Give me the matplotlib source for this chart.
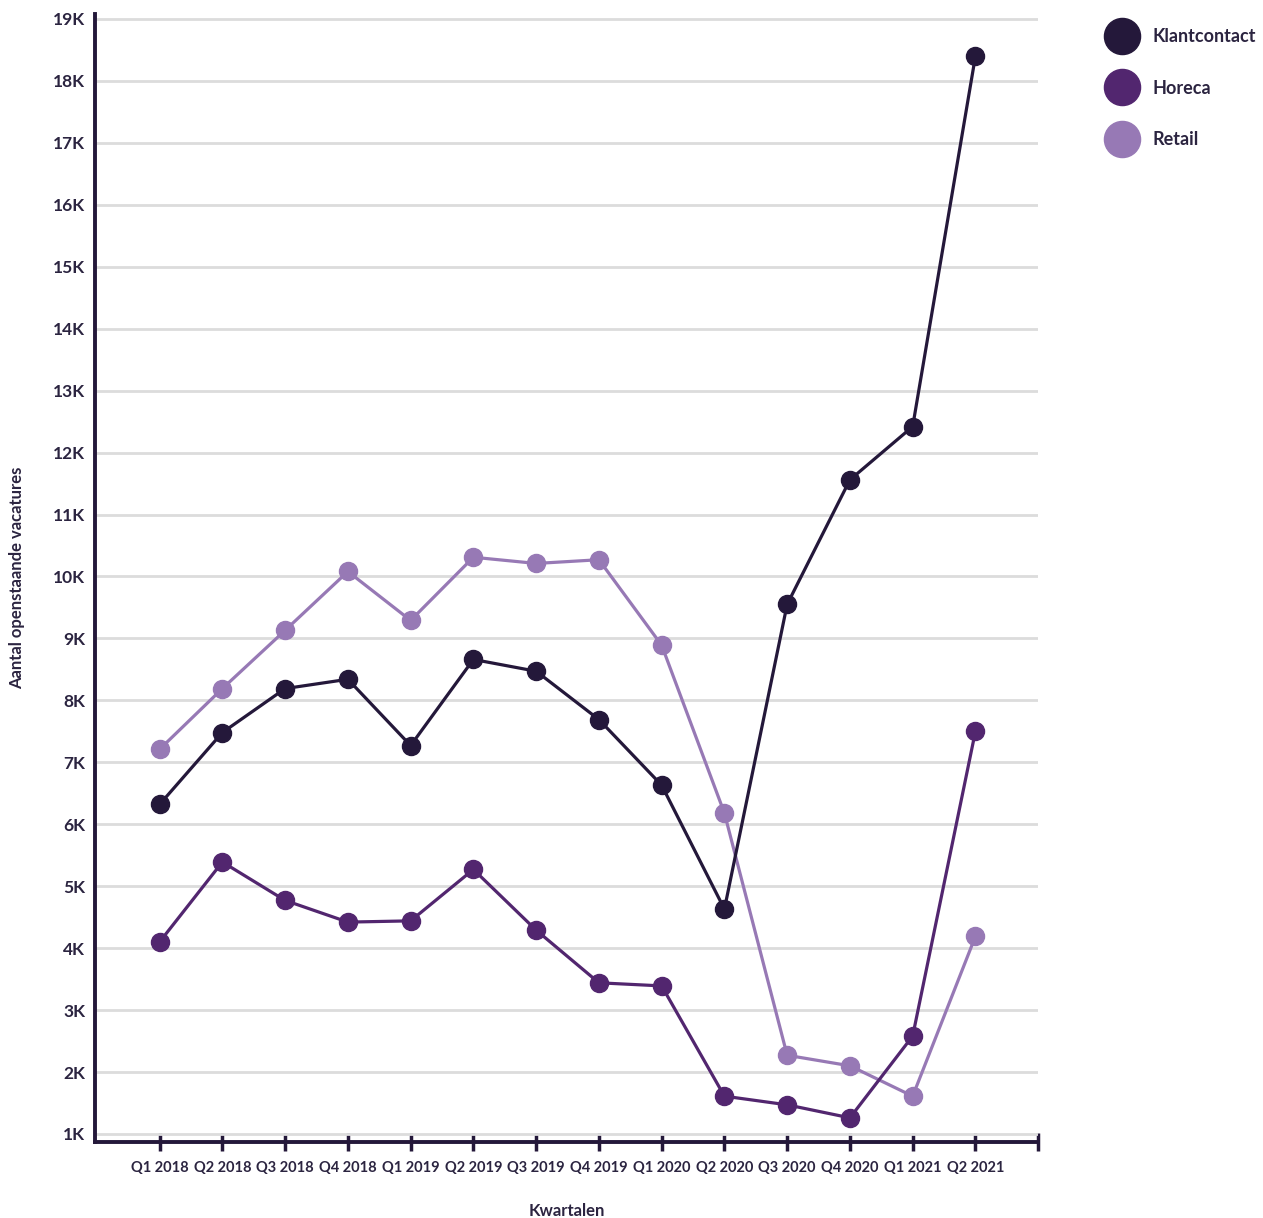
import matplotlib.pyplot as plt
from matplotlib.lines import Line2D
from matplotlib.ticker import FuncFormatter

plt.rcParams['font.family'] = ['Lato', 'DejaVu Sans']
plt.rcParams['font.weight'] = 'bold'

# data (in thousands)
quarters = ["Q1 2018", "Q2 2018", "Q3 2018", "Q4 2018", "Q1 2019", "Q2 2019", "Q3 2019",
            "Q4 2019", "Q1 2020", "Q2 2020", "Q3 2020", "Q4 2020", "Q1 2021", "Q2 2021"]
klantcontact = [6.32, 7.48, 8.19, 8.34, 7.27, 8.66, 8.47, 7.69, 6.63, 4.63, 9.55, 11.56, 12.42, 18.40]
horeca = [4.10, 5.39, 4.77, 4.42, 4.44, 5.27, 4.29, 3.44, 3.39, 1.61, 1.47, 1.26, 2.58, 7.50]
retail = [7.21, 8.19, 9.13, 10.08, 9.29, 10.31, 10.21, 10.27, 8.89, 6.18, 2.27, 2.10, 1.61, 4.19]

names = ["Klantcontact", "Horeca", "Retail"]
colors = ["#24183a", "#52266f", "#9779b5"]
dark = "#24183a"
txt = "#2b2440"

fig = plt.figure(figsize=(12.63, 12.18), dpi=100)
ax = fig.add_axes([0.0752, 0.0624, 0.7468, 0.9261])

x = list(range(len(quarters)))
# back to front: retail, horeca, klantcontact
for vals, c in [(retail, colors[2]), (horeca, colors[1]), (klantcontact, colors[0])]:
    ax.plot(x, vals, color=c, linewidth=2.3, marker='o', markersize=13, zorder=3)

ax.set_xlim(-1.03, 14)
ax.set_ylim(0.87, 19.08)

ax.set_xticks(list(range(len(quarters) + 1)))
ax.set_xticklabels(quarters + [""], fontsize=10.5, color=txt, fontweight='bold')
ax.set_yticks(list(range(1, 20)))
ax.yaxis.set_major_formatter(FuncFormatter(lambda v, p: f"{int(v)}K"))
for lbl in ax.get_yticklabels():
    lbl.set_fontsize(12.5)
    lbl.set_color(txt)
    lbl.set_fontweight('bold')

ax.tick_params(axis='x', direction='inout', length=13, width=2.5, color=dark, pad=7)
ax.tick_params(axis='y', length=0, pad=7)

ax.grid(axis='y', color="#dcdcdc", linewidth=2)
ax.set_axisbelow(True)

for s in ["top", "right"]:
    ax.spines[s].set_visible(False)
for s in ["left", "bottom"]:
    ax.spines[s].set_color(dark)
    ax.spines[s].set_linewidth(2.8)

ax.set_xlabel("Kwartalen", fontsize=12, color=txt, fontweight='bold', labelpad=20)
ax.set_ylabel("Aantal openstaande vacatures", fontsize=12, color=txt, fontweight='bold', labelpad=20)

handles = [Line2D([0], [0], linestyle='none', marker='o', markersize=26, color=c) for c in colors]
leg = fig.legend(handles, names, loc='upper left', bbox_to_anchor=(0.867, 0.99), frameon=False,
                 fontsize=13, labelspacing=1.9, handletextpad=1.1, handlelength=1.2)
for t in leg.get_texts():
    t.set_color(txt)
    t.set_fontweight('bold')

fig.savefig("out.png", dpi=100)
